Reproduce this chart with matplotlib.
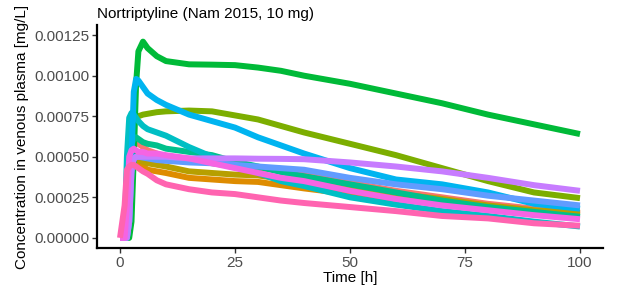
import matplotlib
matplotlib.use("Agg")
import matplotlib.pyplot as plt

time_h = [0, 1, 1.5, 2, 2.5, 3, 3.5, 4, 5, 6, 8, 10, 15, 20, 25, 30, 35, 40, 50, 60, 70, 80, 90, 100]

conc_red = [0, 0, 0, 0.0003, 0.00052, 0.00058, 0.00059, 0.00058, 0.00056, 0.00054, 0.00052, 0.0005,
            0.00048, 0.00046, 0.00044, 0.00043, 0.000415, 0.0004, 0.00034, 0.00029, 0.00025, 0.00021, 0.00018, 0.00015]
conc_orange = [0, 0, 0, 0.0002, 0.0004, 0.00046, 0.00047, 0.00046, 0.00044, 0.00042, 0.00041, 0.0004,
               0.00037, 0.00036, 0.00035, 0.000345, 0.000325, 0.000305, 0.00027, 0.00024, 0.00021, 0.00019, 0.00016, 0.00014]
conc_olive = [0, 0, 0, 0.0002, 0.00042, 0.00047, 0.00048, 0.00048, 0.00047, 0.00046, 0.00045, 0.00044,
              0.00041, 0.0004, 0.00039, 0.000385, 0.000365, 0.00035, 0.0003, 0.00027, 0.00024, 0.0002, 0.00017, 0.000155]
conc_yellowgreen = [0, 0, 0, 0.0002, 0.0006, 0.00072, 0.00074, 0.00075, 0.00076, 0.000765, 0.000775, 0.00078,
                    0.000785, 0.00078, 0.000755, 0.00073, 0.00069, 0.00065, 0.00058, 0.00051, 0.00043, 0.00035, 0.00028, 0.000245]
conc_green = [0, 0, 0, 0, 0.0001, 0.0005, 0.00095, 0.00115, 0.00121, 0.00117, 0.00112, 0.00109,
              0.00107, 0.001068, 0.001065, 0.00105, 0.00103, 0.001, 0.00095, 0.00089, 0.00083, 0.00076, 0.0007, 0.00064]
conc_teal = [0, 0, 0.0002, 0.0005, 0.00058, 0.00061, 0.00062, 0.00061, 0.00059, 0.00058, 0.00057, 0.00055,
             0.00053, 0.00051, 0.00047, 0.00044, 0.000405, 0.00038, 0.00033, 0.00028, 0.00023, 0.00019, 0.00016, 0.00013]
conc_cyan = [0, 0, 0.0005, 0.00074, 0.00077, 0.00076, 0.00074, 0.00072, 0.00069, 0.00067, 0.00065, 0.00063,
             0.00056, 0.0005, 0.00045, 0.0004, 0.00035, 0.00032, 0.00025, 0.000205, 0.000165, 0.000135, 0.0001, 0.00007]
conc_skyblue = [0, 0, 0, 0.0001, 0.0005, 0.0009, 0.00098, 0.00097, 0.00093, 0.00089, 0.00085, 0.00082,
                0.00076, 0.00072, 0.00068, 0.00062, 0.00057, 0.00052, 0.00043, 0.00036, 0.00033, 0.00028, 0.00021, 0.00018]
conc_blue = [0, 0, 0, 0.0001, 0.0004, 0.00049, 0.0005, 0.0005, 0.000495, 0.00049, 0.00048, 0.000475,
             0.000465, 0.00046, 0.00045, 0.00044, 0.00043, 0.00042, 0.00037, 0.00033, 0.0003, 0.00026, 0.00023, 0.0002]
conc_purple = [0, 0, 0, 0.0001, 0.00042, 0.00049, 0.0005, 0.0005, 0.0005, 0.0005, 0.0005, 0.0005,
               0.00049, 0.00049, 0.00049, 0.000488, 0.000487, 0.000485, 0.000465, 0.00044, 0.00041, 0.00037, 0.000325, 0.00029]
conc_magenta = [0, 0, 0.0002, 0.0005, 0.00054, 0.00055, 0.00054, 0.00053, 0.00053, 0.00052, 0.00052, 0.00051,
                0.00049, 0.00046, 0.00043, 0.0004, 0.00037, 0.00035, 0.00029, 0.00024, 0.0002, 0.00017, 0.00014, 0.000115]
conc_pink = [0, 0.0002, 0.00042, 0.00044, 0.00045, 0.00045, 0.00044, 0.00043, 0.00041, 0.000395, 0.000355, 0.00033,
             0.0003, 0.00028, 0.00027, 0.00025, 0.00023, 0.000215, 0.00019, 0.000165, 0.000135, 0.00012, 0.00009, 0.000075]

series = [conc_red, conc_orange, conc_olive, conc_yellowgreen, conc_green, conc_teal,
          conc_cyan, conc_skyblue, conc_blue, conc_purple, conc_magenta, conc_pink]
colors = ["#F8766D", "#DE8C00", "#B79F00", "#7CAE00", "#00BA38", "#00C08B",
          "#00BFC4", "#00B4F0", "#619CFF", "#C77CFF", "#F564E3", "#FF64B0"]

x_ticks = [0, 25, 50, 75, 100]
y_ticks = [0.0, 0.00025, 0.0005, 0.00075, 0.001, 0.00125]
y_tick_labels = ["0.00000", "0.00025", "0.00050", "0.00075", "0.00100", "0.00125"]

plt.rcParams['font.family'] = ['Liberation Sans', 'DejaVu Sans']

fig = plt.figure(figsize=(6.18, 2.91), dpi=100)
ax = fig.add_axes([97/618, 43/291, 506/618, 223/291])

for ys, c in zip(series, colors):
    ax.plot(time_h, ys, color=c, lw=4.3, solid_capstyle='butt', solid_joinstyle='round')

ax.set_xlim(-5, 105)
ax.set_ylim(-0.0000625, 0.0013125)
ax.set_xticks(x_ticks)
ax.set_xticklabels([str(v) for v in x_ticks])
ax.set_yticks(y_ticks)
ax.set_yticklabels(y_tick_labels)
for s in ['top', 'right']:
    ax.spines[s].set_visible(False)
for s in ['left', 'bottom']:
    ax.spines[s].set_linewidth(1.6)
    ax.spines[s].set_color('black')
ax.tick_params(axis='both', length=3.5, width=1.0, colors='#333333', labelsize=11, labelcolor='#4D4D4D', pad=2)

ax.set_xlabel("Time [h]", fontsize=11, labelpad=1)
ax.set_ylabel("Concentration in venous plasma [mg/L]", fontsize=11, labelpad=4)
ax.set_title("Nortriptyline (Nam 2015, 10 mg)", fontsize=11, loc='left', pad=5)

fig.savefig("out.png", dpi=100)
